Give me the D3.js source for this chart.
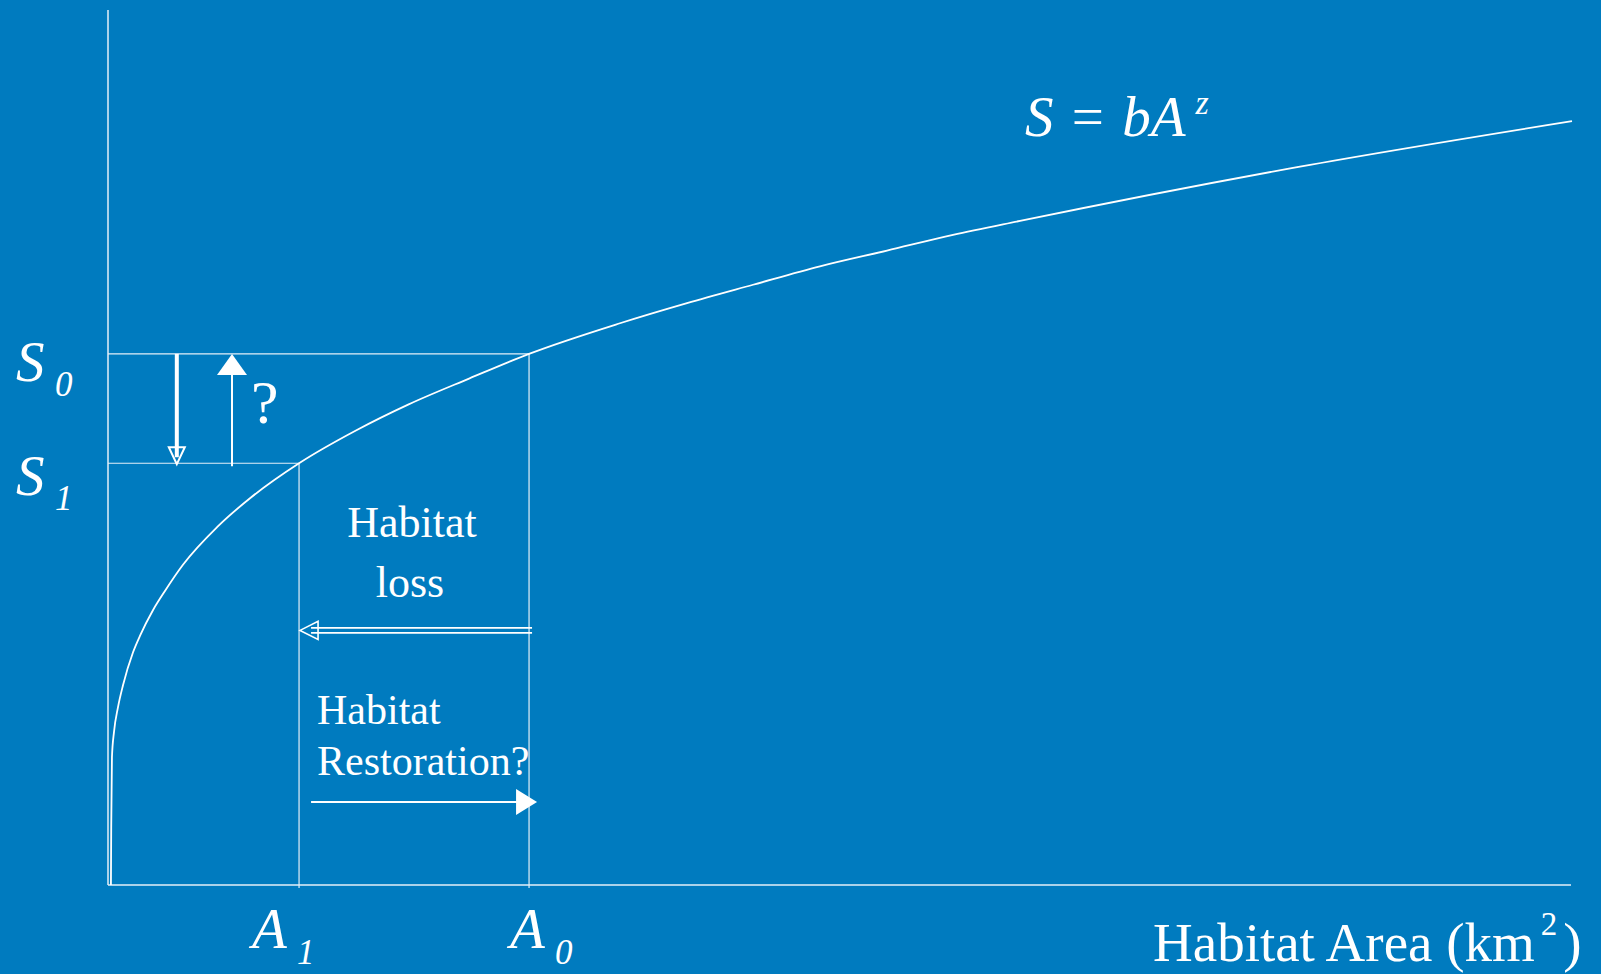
<!DOCTYPE html>
<html>
<head>
<meta charset="utf-8">
<script src="https://cdn.jsdelivr.net/npm/d3@7"></script>
<style>
    html, body { margin: 0; padding: 0; background: #007bbf; }
    svg { display: block; }
    text { font-family: "Liberation Serif", "Times New Roman", serif; fill: #fff; }
</style>
</head>
<body>
<div id="chart"></div>
<script>
// species-area curve, points (arbitrary units)
const areaValues    = [0.20, 0.22, 0.27, 0.41, 0.68, 1.02, 1.71, 2.19, 3.07, 3.89, 5.12, 7.45, 9.70, 13.05, 17.0, 20.5, 24.7, 28.76, 34.97, 39.55, 44.06, 48.63, 53.21, 57.72, 62.30, 81.42, 100];
const speciesValues = [0,    6.6,  14.6, 17.5, 20.3, 22.8, 26.6, 28.5, 31.4, 33.6, 36.6, 40.9, 44.2, 48.2,  52.0, 54.9, 57.9, 60.7,  64.2,  66.5,  68.6,  70.7,  72.5,  74.3,  75.9,  82.1,  87.3];

// before (0) and after (1) habitat loss
const markSubs     = ["0", "1"];
const areaMarks    = [28.76, 13.05];
const speciesMarks = [60.7, 48.2];

const axisTitle = "Habitat Area (km";
const axisTitleSup = "2";

class SpeciesAreaVis {

    constructor(parentElement) {
        this.parentElement = parentElement;
        this.initVis();
    }

    initVis() {
        let vis = this;

        vis.width = 1601;
        vis.height = 974;
        vis.lineColor = "#e4eff8";

        vis.svg = d3.select("#" + vis.parentElement).append("svg")
            .attr("width", vis.width)
            .attr("height", vis.height);

        vis.svg.append("rect")
            .attr("width", vis.width)
            .attr("height", vis.height)
            .attr("fill", "#007bbf");

        vis.x = d3.scaleLinear().domain([0, 100]).range([108, 1572]);
        vis.y = d3.scaleLinear().domain([0, 100]).range([885, 10]);

        vis.updateVis();
    }

    updateVis() {
        let vis = this;
        let x = vis.x, y = vis.y;

        // axes: plain lines, no ticks
        vis.svg.append("line")
            .attr("x1", x(0)).attr("x2", x(0))
            .attr("y1", y(0)).attr("y2", y(100))
            .attr("stroke", vis.lineColor).attr("stroke-width", 1.5);
        vis.svg.append("line")
            .attr("x1", x(0)).attr("x2", x(100) - 1)
            .attr("y1", y(0)).attr("y2", y(0))
            .attr("stroke", vis.lineColor).attr("stroke-width", 1.5);

        // guide lines for A0/S0 and A1/S1
        let marks = markSubs.map((s, i) => ({sub: s, a: areaMarks[i], s: speciesMarks[i]}));

        vis.svg.selectAll(".hguide")
            .data(marks)
            .enter().append("line")
            .attr("class", "hguide")
            .attr("x1", x(0)).attr("x2", d => x(d.a))
            .attr("y1", d => y(d.s)).attr("y2", d => y(d.s))
            .attr("stroke", vis.lineColor).attr("stroke-width", 1.2);

        vis.svg.selectAll(".vguide")
            .data(marks)
            .enter().append("line")
            .attr("class", "vguide")
            .attr("x1", d => x(d.a)).attr("x2", d => x(d.a))
            .attr("y1", d => y(d.s)).attr("y2", y(0) + 3)
            .attr("stroke", vis.lineColor).attr("stroke-width", 1.2);

        // the curve
        const curve = d3.line()
            .x((d, i) => x(areaValues[i]))
            .y(d => y(d))
            .curve(d3.curveMonotoneX);

        vis.svg.append("path")
            .attr("d", curve(speciesValues))
            .attr("fill", "none")
            .attr("stroke", "#ffffff")
            .attr("stroke-width", 1.8);

        // labels on the axes
        const sLabelDy = [27, 32];
        marks.forEach((d, i) => {
            let t = vis.svg.append("text")
                .attr("x", 16)
                .attr("y", y(d.s) + sLabelDy[i])
                .attr("font-size", 57)
                .attr("font-style", "italic")
                .text("S");
            t.append("tspan")
                .attr("x", 55)
                .attr("y", y(d.s) + sLabelDy[i] + 15)
                .attr("font-size", 35)
                .text(d.sub);
        });

        const aLabelDx = [-19, -47];
        marks.forEach((d, i) => {
            let t = vis.svg.append("text")
                .attr("x", x(d.a) + aLabelDx[i])
                .attr("y", 948)
                .attr("font-size", 57)
                .attr("font-style", "italic")
                .text("A");
            t.append("tspan")
                .attr("x", x(d.a) + aLabelDx[i] + 45)
                .attr("y", 964)
                .attr("font-size", 35)
                .text(d.sub);
        });

        let title = vis.svg.append("text")
            .attr("x", 1153)
            .attr("y", 961)
            .attr("font-size", 55)
            .text(axisTitle);
        title.append("tspan")
            .attr("dx", 6)
            .attr("dy", -26)
            .attr("font-size", 33)
            .text(axisTitleSup);
        title.append("tspan")
            .attr("dx", 6)
            .attr("dy", 26)
            .text(")");

        // formula
        let formula = vis.svg.append("text")
            .attr("x", 1025)
            .attr("y", 136)
            .attr("font-size", 57);
        formula.append("tspan").attr("font-style", "italic").text("S");
        formula.append("tspan").attr("dx", 4).text(" = ");
        formula.append("tspan").attr("font-style", "italic").attr("dx", 4).text("bA");
        formula.append("tspan")
            .attr("font-style", "italic")
            .attr("font-size", 34)
            .attr("dx", 10)
            .attr("dy", -22)
            .text("z");

        vis.drawArrows(marks);
    }

    drawArrows(marks) {
        let vis = this;
        let x = vis.x, y = vis.y;
        let s0 = marks[0], s1 = marks[1];

        // species loss (down), hollow head
        let xd = x(4.7);
        vis.svg.append("line")
            .attr("x1", xd).attr("x2", xd)
            .attr("y1", y(s0.s)).attr("y2", y(s1.s) - 6)
            .attr("stroke", "#fff").attr("stroke-width", 4);
        vis.svg.append("path")
            .attr("d", `M${xd - 8},${y(s1.s) - 16} L${xd + 8},${y(s1.s) - 16} L${xd},${y(s1.s) + 1} Z`)
            .attr("fill", "none")
            .attr("stroke", "#fff").attr("stroke-width", 2);

        // recovery? (up), filled head
        let xu = x(8.47);
        vis.svg.append("line")
            .attr("x1", xu).attr("x2", xu)
            .attr("y1", y(s1.s) + 3).attr("y2", y(s0.s) + 18)
            .attr("stroke", "#fff").attr("stroke-width", 2);
        vis.svg.append("path")
            .attr("d", `M${xu - 15},${y(s0.s) + 21} L${xu + 15},${y(s0.s) + 21} L${xu},${y(s0.s)} Z`)
            .attr("fill", "#fff");

        vis.svg.append("text")
            .attr("x", xu + 19)
            .attr("y", y(s0.s) + 69)
            .attr("font-size", 62)
            .text("?");

        // habitat loss (left), double shaft, hollow head
        let yl = y(29.1);
        [-2.5, 2.5].forEach(o => {
            vis.svg.append("line")
                .attr("x1", x(s0.a) + 3).attr("x2", x(s1.a) + 12)
                .attr("y1", yl + o).attr("y2", yl + o)
                .attr("stroke", "#fff").attr("stroke-width", 1.8);
        });
        vis.svg.append("path")
            .attr("d", `M${x(s1.a) + 19},${yl - 9} L${x(s1.a) + 19},${yl + 9} L${x(s1.a) + 1},${yl} Z`)
            .attr("fill", "none")
            .attr("stroke", "#fff").attr("stroke-width", 1.6);

        let loss = vis.svg.append("text")
            .attr("text-anchor", "middle")
            .attr("font-size", 44);
        loss.append("tspan").attr("x", 412).attr("y", 537).text("Habitat");
        loss.append("tspan").attr("x", 410).attr("y", 597).text("loss");

        // restoration (right), filled head
        let yr = y(9.5);
        vis.svg.append("line")
            .attr("x1", x(13.87)).attr("x2", x(s0.a) - 10)
            .attr("y1", yr).attr("y2", yr)
            .attr("stroke", "#fff").attr("stroke-width", 2);
        vis.svg.append("path")
            .attr("d", `M${x(s0.a) - 13},${yr - 13} L${x(s0.a) - 13},${yr + 13} L${x(s0.a) + 8},${yr} Z`)
            .attr("fill", "#fff");

        let resto = vis.svg.append("text")
            .attr("font-size", 42);
        resto.append("tspan").attr("x", 317).attr("y", 724).text("Habitat");
        resto.append("tspan").attr("x", 317).attr("y", 775).text("Restoration?");
    }
}

new SpeciesAreaVis("chart");
</script>
</body>
</html>
